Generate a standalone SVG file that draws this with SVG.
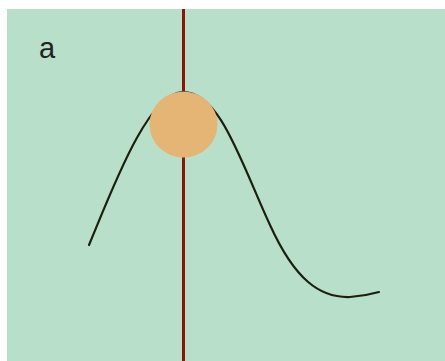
<svg xmlns="http://www.w3.org/2000/svg" width="445" height="361" viewBox="0 0 445 361">
<style>
.bg{fill:#b8dfc9}
.axis{stroke:#8f1405;stroke-width:3;fill:none}
.curve{stroke:#1f1f0f;stroke-width:2.2;fill:none;stroke-linecap:round}
.ball{fill:#e4b574}
.lbl{font-family:"Liberation Sans",Arial,sans-serif;font-size:29px;fill:#222}
</style>
<rect class="bg" x="7" y="9" width="438" height="352"/>
<g id="connectors">
<line class="axis" x1="183.5" y1="9" x2="183.5" y2="361"/>
<path class="curve" d="M89,245 C112,190 148,92 183,92 C220,92 240,160 270,225 C295,280 320,298 350,297 C365,296 372,294 379,292"/>
</g>
<g id="ball">
<ellipse class="ball" cx="183.5" cy="124.5" rx="34" ry="33"/>
</g>
<g id="label">
<text class="lbl" x="39" y="58">a</text>
</g>
</svg>
